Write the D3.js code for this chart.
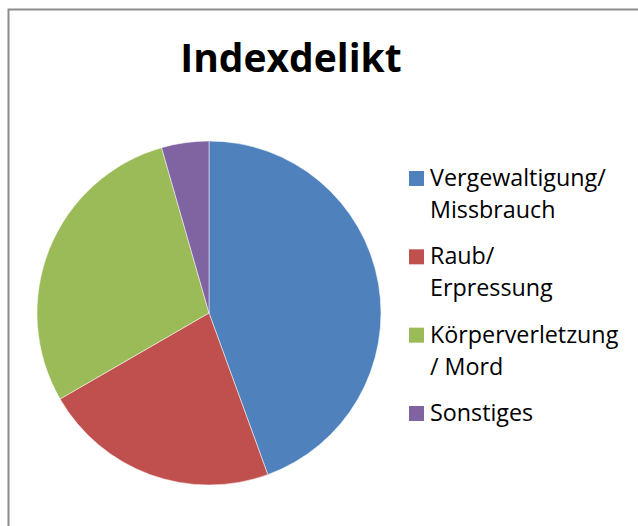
<!DOCTYPE html>
<html lang="de">
<head>
  <meta charset="UTF-8">
  <title>Indexdelikt</title>
  <script src="https://cdn.jsdelivr.net/npm/d3@7"></script>
  <style>
    body { margin: 0; background: #fff; }
    svg text { font-family: "Open Sans", "Noto Sans", sans-serif; fill: #000; }
  </style>
</head>
<body>
  <script>
    // data
    const categories = ["Vergewaltigung/\nMissbrauch", "Raub/\nErpressung", "Körperverletzung\n/ Mord", "Sonstiges"];
    const values = [20, 10, 13, 2];
    const colors = ["#4F81BD", "#C0504D", "#9BBB59", "#8064A2"];

    const w = 638, h = 526;
    const cx = 209, cy = 313, r = 172;

    const svg = d3.select("body").append("svg")
      .attr("width", w)
      .attr("height", h);

    // chart frame (only top and left edges visible in the crop)
    svg.append("path")
      .attr("d", `M8.5,${h} V9.5 H${w}`)
      .attr("fill", "none")
      .attr("stroke", "#8c8c8c")
      .attr("stroke-width", 2);

    svg.append("text")
      .attr("x", 291)
      .attr("y", 72)
      .attr("text-anchor", "middle")
      .attr("font-weight", "bold")
      .attr("font-size", 39)
      .text("Indexdelikt");

    const pie = d3.pie().sort(null).value(d => d);
    const arc = d3.arc().innerRadius(0).outerRadius(r);

    svg.append("g")
      .attr("transform", `translate(${cx},${cy})`)
      .selectAll("path")
      .data(pie(values))
      .enter().append("path")
      .attr("d", arc)
      .attr("fill", (d, i) => colors[i])
      .attr("stroke", "#fff")
      .attr("stroke-width", 0.5);

    // legend
    const legendY = d3.scalePoint().domain(d3.range(categories.length)).range([186, 421]);
    const legend = svg.append("g").selectAll("g")
      .data(categories)
      .enter().append("g")
      .attr("transform", (d, i) => `translate(409,${legendY(i)})`);

    legend.append("rect")
      .attr("x", 0)
      .attr("y", -15)
      .attr("width", 15)
      .attr("height", 15)
      .attr("fill", (d, i) => colors[i]);

    legend.append("text")
      .attr("font-size", 23.3)
      .selectAll("tspan")
      .data(d => d.split("\n"))
      .enter().append("tspan")
      .attr("x", 21)
      .attr("y", (d, i) => i * 32)
      .text(d => d);
  </script>
</body>
</html>
